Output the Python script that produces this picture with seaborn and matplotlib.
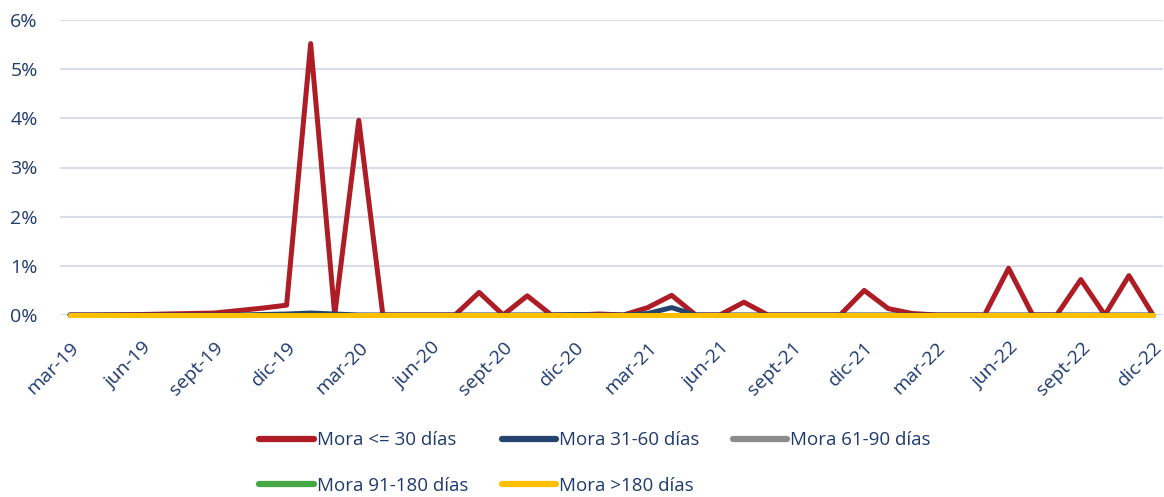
import pandas as pd
import matplotlib.pyplot as plt
import seaborn as sns
from matplotlib.ticker import PercentFormatter

# Meses (mar-19 a dic-22)
meses = ['mar-19', 'abr-19', 'may-19', 'jun-19', 'jul-19', 'ago-19', 'sept-19', 'oct-19', 'nov-19', 'dic-19',
         'ene-20', 'feb-20', 'mar-20', 'abr-20', 'may-20', 'jun-20', 'jul-20', 'ago-20', 'sept-20', 'oct-20',
         'nov-20', 'dic-20', 'ene-21', 'feb-21', 'mar-21', 'abr-21', 'may-21', 'jun-21', 'jul-21', 'ago-21',
         'sept-21', 'oct-21', 'nov-21', 'dic-21', 'ene-22', 'feb-22', 'mar-22', 'abr-22', 'may-22', 'jun-22',
         'jul-22', 'ago-22', 'sept-22', 'oct-22', 'nov-22', 'dic-22']

# Valores en %
mora_30 = [0, 0, 0.005, 0.01, 0.02, 0.03, 0.04, 0.09, 0.14, 0.2,
           5.52, 0, 3.96, 0, 0, 0, 0, 0.46, 0, 0.39,
           0, 0, 0.02, 0, 0.15, 0.4, 0, 0, 0.26, 0,
           0, 0, 0, 0.5, 0.13, 0.03, 0, 0, 0, 0.95,
           0, 0, 0.72, 0, 0.8, 0]
mora_60 = [0, 0, 0, 0, 0, 0, 0, 0, 0.01, 0.02,
           0.04, 0.02, 0, 0, 0, 0, 0, 0, 0, 0,
           0, 0.01, 0, 0, 0.03, 0.15, 0, 0, 0, 0,
           0, 0, 0, 0, 0, 0, 0, 0, 0, 0,
           0, 0, 0, 0, 0, 0]
mora_90 = [0, 0, 0, 0, 0, 0, 0, 0, 0, 0,
           0, 0, 0, 0, 0, 0, 0, 0, 0, 0,
           0, 0, 0, 0, 0, 0, 0, 0, 0, 0,
           0, 0, 0, 0, 0, 0, 0, 0, 0, 0,
           0, 0, 0, 0, 0, 0]
mora_180 = [0, 0, 0, 0, 0, 0, 0, 0, 0, 0,
            0, 0, 0, 0, 0, 0, 0, 0, 0, 0,
            0, 0, 0, 0, 0, 0, 0, 0, 0, 0,
            0, 0, 0, 0, 0, 0, 0, 0, 0, 0,
            0, 0, 0, 0, 0, 0]
mora_mas180 = [0, 0, 0, 0, 0, 0, 0, 0, 0, 0,
               0, 0, 0, 0, 0, 0, 0, 0, 0, 0,
               0, 0, 0, 0, 0, 0, 0, 0, 0, 0,
               0, 0, 0, 0, 0, 0, 0, 0, 0, 0,
               0, 0, 0, 0, 0, 0]

series = ['Mora <= 30 días', 'Mora 31-60 días', 'Mora 61-90 días', 'Mora 91-180 días', 'Mora >180 días']
colores = ['#AE1C26', '#27446F', '#8C8C8C', '#46A843', '#FFC000']

# Armar DataFrame largo
frames = []
for nombre, vals in zip(series, [mora_30, mora_60, mora_90, mora_180, mora_mas180]):
    frames.append(pd.DataFrame({'mes': range(len(meses)), 'valor': vals, 'serie': nombre}))
df = pd.concat(frames)

sns.set_style('white')
plt.rcParams['font.family'] = ['Open Sans', 'DejaVu Sans']
texto = '#1F3A6E'

fig = plt.figure(figsize=(11.64, 4.97), dpi=100)
ax = fig.add_axes([60 / 1164, 1 - 315 / 497, 1103 / 1164, 295 / 497])

sns.lineplot(data=df, x='mes', y='valor', hue='serie', hue_order=series,
             palette=dict(zip(series, colores)), linewidth=3.6, sort=False,
             solid_capstyle='round', solid_joinstyle='round', clip_on=False, ax=ax)

ax.set_xlim(-0.415, 45.415)
ax.set_ylim(0, 6)
ax.set_yticks(range(0, 7))
ax.yaxis.set_major_formatter(PercentFormatter(100, decimals=0))
ax.yaxis.grid(True, color='#D9DCEA', linewidth=1.5)
ax.set_axisbelow(True)
ax.set_xticks(range(0, len(meses), 3))
ax.set_xticklabels(meses[::3], rotation=45, ha='right', rotation_mode='anchor')
ax.tick_params(axis='x', length=0, pad=17, labelsize=14, labelcolor=texto)
ax.tick_params(axis='y', length=0, pad=16, labelsize=14, labelcolor=texto)
ax.set_xlabel('')
ax.set_ylabel('')
sns.despine(ax=ax, left=True, bottom=True)

handles, labels = ax.get_legend_handles_labels()
ax.get_legend().remove()
for h in handles:
    h.set_linewidth(4.5)
    h.set_solid_capstyle('round')
# orden por filas con 3 columnas
orden = [0, 3, 1, 4, 2]
fig.legend([handles[i] for i in orden], [labels[i] for i in orden], loc='center left',
           bbox_to_anchor=(250 / 1164, 1 - 463 / 497),
           ncol=3, frameon=False, fontsize=13.5, labelcolor=texto, handlelength=2.9,
           handletextpad=0.15, columnspacing=1.8, labelspacing=1.45, borderpad=0)

fig.savefig('out.png', dpi=100)
